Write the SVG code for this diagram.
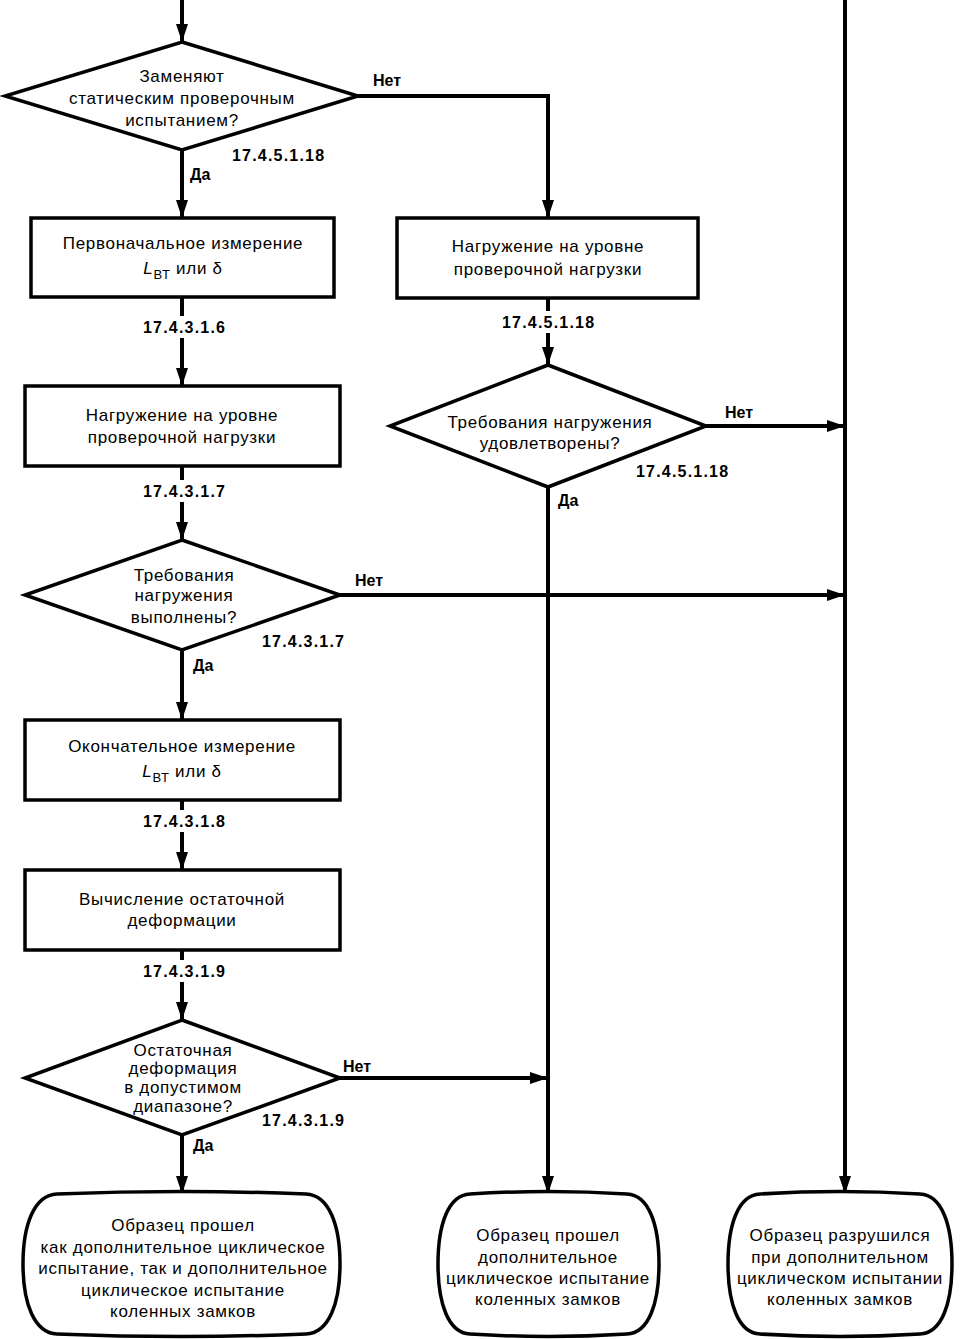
<svg xmlns="http://www.w3.org/2000/svg" width="961" height="1339" viewBox="0 0 961 1339">
<style>
text{font-family:"Liberation Sans",Arial,sans-serif;fill:#000}
.t{font-size:17px;letter-spacing:0.7px;text-anchor:middle}
.c{font-size:16px;font-weight:bold;letter-spacing:1.2px}
.l{font-size:16px;font-weight:bold}
.bg{fill:#fff}
.n{fill:#fff;stroke:#000;stroke-width:3.5}
.e{fill:none;stroke:#000;stroke-width:4}
</style>
<defs>
<marker id="ah" markerUnits="userSpaceOnUse" markerWidth="20" markerHeight="14" refX="18" refY="7" orient="auto">
<path d="M0,1 L18,7 L0,13 Z" fill="#000"/>
</marker>
</defs>
<g id="connectors">
<path class="e" d="M182,0 V42" marker-end="url(#ah)"/>
<path class="e" d="M358,96 H548 V218" marker-end="url(#ah)"/>
<path class="e" d="M182,150 V218" marker-end="url(#ah)"/>
<path class="e" d="M182,297 V386" marker-end="url(#ah)"/>
<path class="e" d="M182,466 V540" marker-end="url(#ah)"/>
<path class="e" d="M340,595 H845" marker-end="url(#ah)"/>
<path class="e" d="M182,650 V720" marker-end="url(#ah)"/>
<path class="e" d="M182,800 V870" marker-end="url(#ah)"/>
<path class="e" d="M182,950 V1020" marker-end="url(#ah)"/>
<path class="e" d="M340,1078 H548" marker-end="url(#ah)"/>
<path class="e" d="M182,1135 V1194" marker-end="url(#ah)"/>
<path class="e" d="M548,298 V365" marker-end="url(#ah)"/>
<path class="e" d="M706,426 H845" marker-end="url(#ah)"/>
<path class="e" d="M548,487 V1194" marker-end="url(#ah)"/>
<path class="e" d="M845,0 V1194" marker-end="url(#ah)"/>
</g>
<g id="labels">
<text class="l" x="373" y="86">Нет</text>
<text class="l" x="190" y="180">Да</text>
<text class="l" x="355" y="586">Нет</text>
<text class="l" x="193" y="671">Да</text>
<text class="l" x="343" y="1072">Нет</text>
<text class="l" x="193" y="1151">Да</text>
<text class="l" x="725" y="418">Нет</text>
<text class="l" x="558" y="506">Да</text>
<text class="c" x="232" y="161">17.4.5.1.18</text>
<rect class="bg" x="140" y="316" width="88" height="22"/>
<text class="c" x="143" y="333">17.4.3.1.6</text>
<rect class="bg" x="140" y="480" width="88" height="22"/>
<text class="c" x="143" y="497">17.4.3.1.7</text>
<text class="c" x="262" y="647">17.4.3.1.7</text>
<rect class="bg" x="140" y="810" width="88" height="22"/>
<text class="c" x="143" y="827">17.4.3.1.8</text>
<rect class="bg" x="140" y="960" width="88" height="22"/>
<text class="c" x="143" y="977">17.4.3.1.9</text>
<text class="c" x="262" y="1126">17.4.3.1.9</text>
<rect class="bg" x="499" y="311" width="98" height="22"/>
<text class="c" x="502" y="328">17.4.5.1.18</text>
<text class="c" x="636" y="477">17.4.5.1.18</text>
</g>
<g id="d1">
<polygon class="n" points="182,42 358,96 182,150 5,96"/>
<text class="t" x="182" y="82">Заменяют</text>
<text class="t" x="182" y="104">статическим  проверочным</text>
<text class="t" x="182" y="126">испытанием?</text>
</g>
<g id="b1">
<rect class="n" x="31" y="218" width="303" height="79"/>
<text class="t" x="183" y="249">Первоначальное измерение</text>
<text class="t" x="183" y="274"><tspan font-style="italic">L</tspan><tspan font-size="13" dy="5">ВТ</tspan><tspan dy="-5"> или δ</tspan></text>
</g>
<g id="b2">
<rect class="n" x="25" y="386" width="315" height="80"/>
<text class="t" x="182" y="421">Нагружение на уровне</text>
<text class="t" x="182" y="443">проверочной нагрузки</text>
</g>
<g id="d2">
<polygon class="n" points="182,540 340,595 182,650 25,595"/>
<text class="t" x="184" y="581">Требования</text>
<text class="t" x="184" y="601">нагружения</text>
<text class="t" x="184" y="623">выполнены?</text>
</g>
<g id="b3">
<rect class="n" x="25" y="720" width="315" height="80"/>
<text class="t" x="182" y="752">Окончательное измерение</text>
<text class="t" x="182" y="777"><tspan font-style="italic">L</tspan><tspan font-size="13" dy="5">ВТ</tspan><tspan dy="-5"> или δ</tspan></text>
</g>
<g id="b4">
<rect class="n" x="25" y="870" width="315" height="80"/>
<text class="t" x="182" y="905">Вычисление остаточной</text>
<text class="t" x="182" y="926">деформации</text>
</g>
<g id="d3">
<polygon class="n" points="182,1020 340,1078 182,1135 25,1078"/>
<text class="t" x="183" y="1056">Остаточная</text>
<text class="t" x="183" y="1074">деформация</text>
<text class="t" x="183" y="1093">в допустимом</text>
<text class="t" x="183" y="1112">диапазоне?</text>
</g>
<g id="b5">
<rect class="n" x="397" y="218" width="301" height="80"/>
<text class="t" x="548" y="252">Нагружение на уровне</text>
<text class="t" x="548" y="275">проверочной нагрузки</text>
</g>
<g id="d4">
<polygon class="n" points="548,365 706,426 548,487 390,426"/>
<text class="t" x="550" y="428">Требования нагружения</text>
<text class="t" x="550" y="449">удовлетворены?</text>
</g>
<g id="t1">
<path class="n" d="M57,1194 Q181,1189 306,1194 C329,1195 340,1225 340,1264 C340,1303 329,1333 306,1334 Q181,1339 57,1334 C34,1333 23,1303 23,1264 C23,1225 34,1195 57,1194 Z"/>
<text class="t" x="183" y="1231">Образец прошел</text>
<text class="t" x="183" y="1253">как дополнительное циклическое</text>
<text class="t" x="183" y="1274">испытание, так и дополнительное</text>
<text class="t" x="183" y="1296">циклическое испытание</text>
<text class="t" x="183" y="1317">коленных замков</text>
</g>
<g id="t2">
<path class="n" d="M470,1194 Q548,1189 627,1194 C649,1195 659,1225 659,1264 C659,1303 649,1333 627,1334 Q548,1339 470,1334 C448,1333 438,1303 438,1264 C438,1225 448,1195 470,1194 Z"/>
<text class="t" x="548" y="1241">Образец прошел</text>
<text class="t" x="548" y="1263">дополнительное</text>
<text class="t" x="548" y="1284">циклическое испытание</text>
<text class="t" x="548" y="1305">коленных замков</text>
</g>
<g id="t3">
<path class="n" d="M760,1194 Q840,1189 920,1194 C942,1195 952,1225 952,1264 C952,1303 942,1333 920,1334 Q840,1339 760,1334 C738,1333 728,1303 728,1264 C728,1225 738,1195 760,1194 Z"/>
<text class="t" x="840" y="1241">Образец разрушился</text>
<text class="t" x="840" y="1263">при дополнительном</text>
<text class="t" x="840" y="1284">циклическом испытании</text>
<text class="t" x="840" y="1305">коленных замков</text>
</g>
</svg>
